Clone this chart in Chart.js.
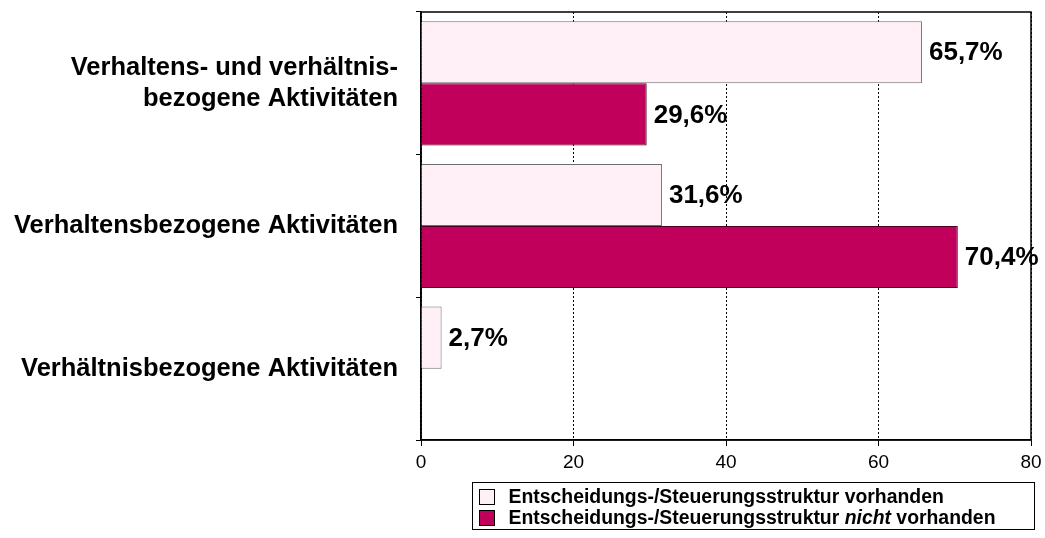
<!DOCTYPE html>
<html>
<head>
<meta charset="utf-8">
<script src="https://cdn.jsdelivr.net/npm/chart.js@4"></script>
<style>
  html, body { margin: 0; padding: 0; background: #fff; }
  #wrap { width: 1045px; height: 538px; position: relative; }
</style>
</head>
<body>
<div id="wrap"><canvas id="activityChart"></canvas></div>
<script>
// Aktivitäten nach Entscheidungs-/Steuerungsstruktur
const categories = [
    ['Verhaltens- und verhältnis-', 'bezogene Aktivitäten'],
    'Verhaltensbezogene Aktivitäten',
    'Verhältnisbezogene Aktivitäten'
];
const seriesLabels = [
    'Entscheidungs-/Steuerungsstruktur vorhanden',
    'Entscheidungs-/Steuerungsstruktur nicht vorhanden'
];
const withStructure = [65.7, 31.6, 2.7];
const withoutStructure = [29.6, 70.4, null];
const xTicks = [0, 20, 40, 60, 80];

const colors = ['#FFF0F8', '#C0005A'];
const FONT = '"Liberation Sans", Arial, Helvetica, sans-serif';

function fmt(v) {
    return v.toFixed(1).replace('.', ',') + '%';
}

// value labels at bar ends
const valueLabels = {
    id: 'valueLabels',
    afterDatasetsDraw(chart) {
        const ctx = chart.ctx;
        ctx.save();
        ctx.font = 'bold 26px ' + FONT;
        ctx.fillStyle = '#000';
        ctx.textBaseline = 'middle';
        ctx.textAlign = 'left';
        chart.data.datasets.forEach((ds, i) => {
            const meta = chart.getDatasetMeta(i);
            meta.data.forEach((bar, j) => {
                const v = ds.data[j];
                if (v == null) return;
                ctx.fillText(fmt(v), bar.x + 7, bar.y + 1);
            });
        });
        ctx.restore();
    }
};

// frame round the plot and legend box below
const frameAndLegend = {
    id: 'frameAndLegend',
    beforeDatasetsDraw(chart) {
        const ctx = chart.ctx;
        const a = chart.chartArea;
        ctx.save();
        ctx.strokeStyle = '#000';
        ctx.lineWidth = 1.5;
        ctx.strokeRect(a.left, a.top, a.right - a.left, a.bottom - a.top);
        ctx.restore();
    },
    afterDraw(chart) {
        const ctx = chart.ctx;
        ctx.save();
        const lx = 472.5, ly = 482.5, lw = 562, lh = 47;
        ctx.strokeStyle = '#000';
        ctx.lineWidth = 1;
        ctx.strokeRect(lx, ly, lw, lh);
        ctx.textBaseline = 'middle';
        ctx.textAlign = 'left';
        seriesLabels.forEach((label, i) => {
            const cy = ly + 14 + i * 21;
            ctx.fillStyle = colors[i];
            ctx.fillRect(lx + 7, cy - 7, 15, 15);
            ctx.strokeStyle = '#000';
            ctx.strokeRect(lx + 7, cy - 7, 15, 15);
            ctx.fillStyle = '#000';
            let x = lx + 36;
            label.split(/(nicht)/).forEach(part => {
                ctx.font = (part === 'nicht' ? 'italic bold ' : 'bold ') + '19.4px ' + FONT;
                ctx.fillText(part, x, cy + 1);
                x += ctx.measureText(part).width;
            });
        });
        ctx.restore();
    }
};

const ctx = document.getElementById('activityChart');
new Chart(ctx, {
    type: 'bar',
    data: {
        labels: categories,
        datasets: [
            {
                label: seriesLabels[0],
                data: withStructure,
                backgroundColor: colors[0],
                borderColor: '#6e6e6e',
                borderWidth: 1
            },
            {
                label: seriesLabels[1],
                data: withoutStructure,
                backgroundColor: colors[1],
                borderColor: '#4a0022',
                borderWidth: 1
            }
        ]
    },
    options: {
        indexAxis: 'y',
        responsive: true,
        maintainAspectRatio: false,
        animation: false,
        categoryPercentage: 0.87,
        barPercentage: 1,
        layout: { padding: { top: 12, right: 14, left: 0, bottom: 0 } },
        plugins: {
            legend: { display: false },
            tooltip: { enabled: false }
        },
        scales: {
            x: {
                min: 0,
                max: 80,
                afterBuildTicks(scale) {
                    scale.ticks = xTicks.map(v => ({ value: v }));
                },
                afterFit(scale) {
                    scale.height = 98;
                    scale.paddingLeft = 0;
                    scale.paddingRight = 0;
                },
                grid: {
                    color: '#000',
                    lineWidth: 1,
                    tickBorderDash: [],
                    tickLength: 6,
                    tickColor: '#000'
                },
                border: { display: true, color: '#000', width: 1.5, dash: [2, 2] },
                ticks: {
                    color: '#000',
                    padding: 5,
                    font: { family: FONT, size: 19 }
                }
            },
            y: {
                afterFit(scale) {
                    scale.width = 421;
                    scale.paddingTop = 0;
                    scale.paddingBottom = 0;
                },
                grid: {
                    offset: true,
                    drawOnChartArea: false,
                    tickLength: 5,
                    tickColor: '#000'
                },
                border: { display: true, color: '#000', width: 1.5 },
                ticks: {
                    color: '#000',
                    padding: 18,
                    font: { family: FONT, size: 25.5, weight: 'bold', lineHeight: 1.2 }
                }
            }
        }
    },
    plugins: [valueLabels, frameAndLegend]
});
</script>
</body>
</html>
